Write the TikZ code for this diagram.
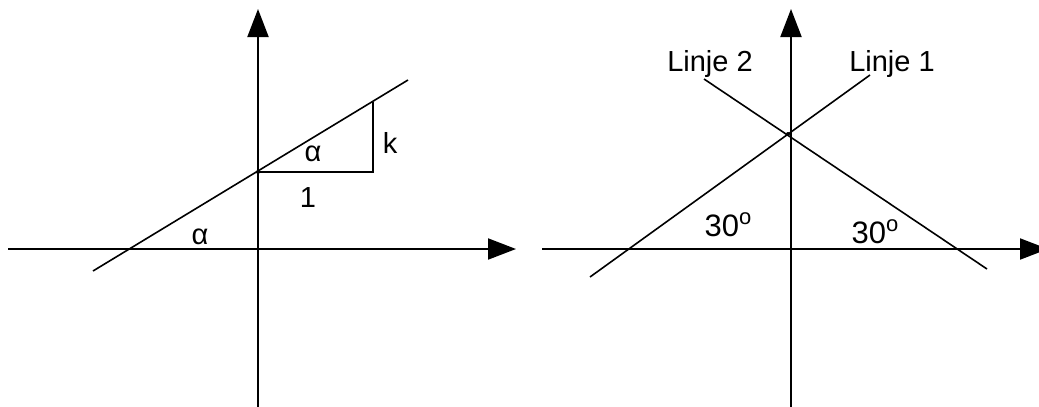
\documentclass[tikz,border=0pt]{standalone}
\usepackage{fontspec}
\setmainfont{Liberation Sans}
\usetikzlibrary{arrows.meta}
\tikzset{
  axis/.style={line width=2pt, -{Triangle[length=28pt,width=21pt]}},
  graphline/.style={line width=1.6pt},
  helpline/.style={line width=2pt},
  lbl/.style={inner sep=0pt, font=\fontsize{29}{32}\selectfont},
  deglbl/.style={inner sep=0pt, font=\fontsize{31}{34}\selectfont},
  dotpt/.style={fill=black, circle, inner sep=0pt, minimum size=4pt},
}
\newcommand{\dego}{\raisebox{0.38em}{\fontsize{22}{22}\selectfont o}}
\begin{document}
\begin{tikzpicture}[x=1pt,y=-1pt]
\useasboundingbox (0,0) rectangle (1039,407);
\clip (0,0) rectangle (1039,407);
% ---------- left diagram ----------
\coordinate (LxS) at (8,249);
\coordinate (LxE) at (516,249);
\coordinate (LyS) at (258,407);
\coordinate (LyE) at (258,9);
\draw[axis] (LxS) -- (LxE);
\draw[axis] (LyS) -- (LyE);
\coordinate (LA) at (93,271);
\coordinate (LB) at (408,80);
\draw[graphline] (LA) -- (LB);
\coordinate (P) at (258,172);
\coordinate (Q) at (373,172);
\coordinate (R) at (373,102);
\draw[helpline] (P) -- (Q) -- (R);
\node[dotpt] (Pdot) at (P) {};
\node[lbl] (alpha1) at (313,154) {α};
\node[lbl] (k) at (390,143) {k};
\node[lbl] (one) at (308,198) {1};
\node[lbl] (alpha2) at (200,237) {α};
% ---------- right diagram ----------
\coordinate (RxS) at (542,249);
\coordinate (RxE) at (1048,249);
\coordinate (RyS) at (791,407);
\coordinate (RyE) at (791,9);
\draw[axis] (RxS) -- (RxE);
\draw[axis] (RyS) -- (RyE);
\coordinate (L1a) at (590,277);
\coordinate (L1b) at (870,75);
\coordinate (L2a) at (704,79);
\coordinate (L2b) at (987,269);
\draw[graphline] (L1a) -- (L1b);
\draw[graphline] (L2a) -- (L2b);
\node[dotpt] (X) at (788,134) {};
\node[lbl] (lin2) at (710,64) {Linje 2};
\node[lbl] (lin1) at (892,64) {Linje 1};
\node[deglbl] (deg1) at (728,225) {30\dego};
\node[deglbl] (deg2) at (875,232) {30\dego};
\end{tikzpicture}
\end{document}
